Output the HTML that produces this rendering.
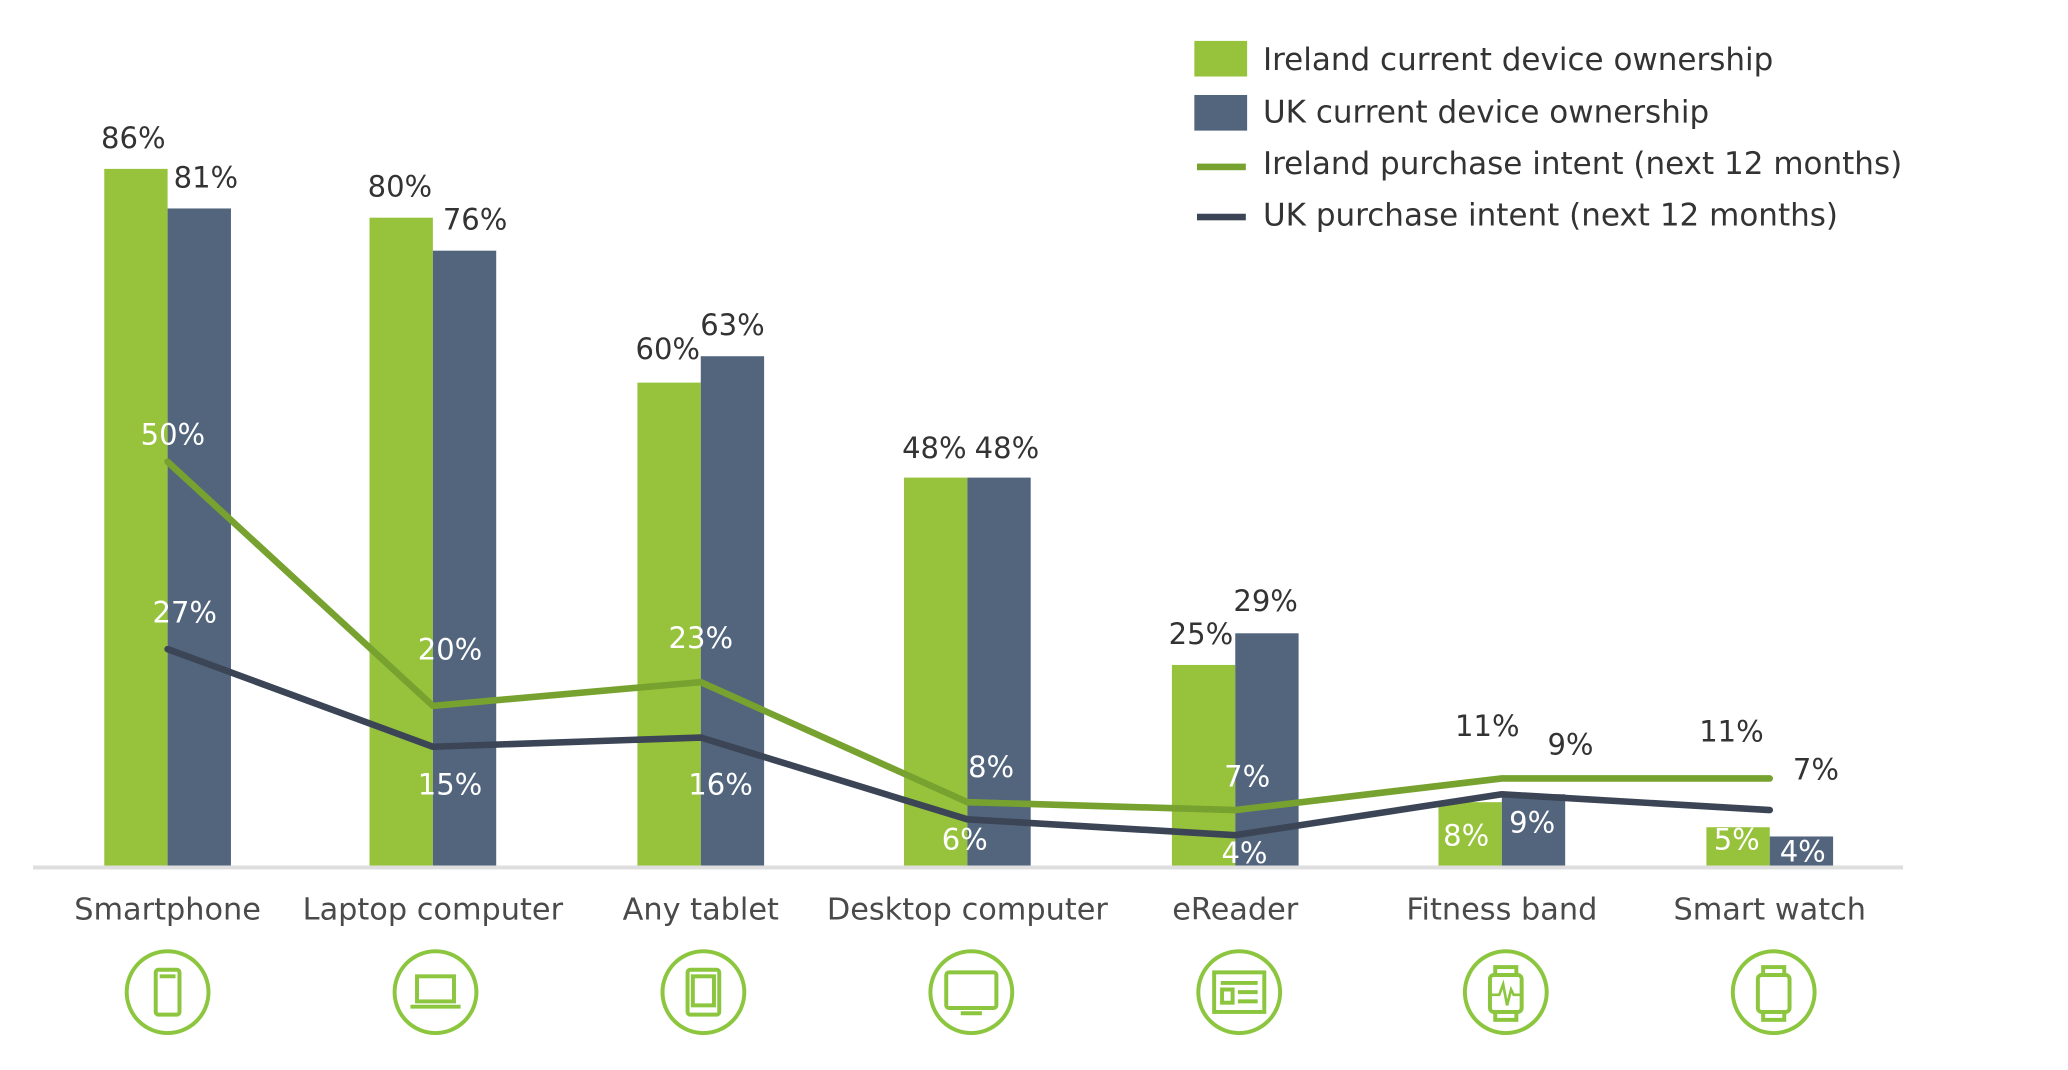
<!DOCTYPE html>
<html><head><meta charset="utf-8"><style>
html,body{margin:0;padding:0;background:#fff;}
svg{display:block;}
text{font-family:"DejaVu Sans","Liberation Sans",sans-serif;}
</style></head><body>
<svg width="2068" height="1070" viewBox="0 0 1567 811" preserveAspectRatio="none" xmlns="http://www.w3.org/2000/svg">
<rect width="1567" height="811" fill="#fff"/>
<g>
<rect x="79" y="128" width="48" height="529" fill="#97c33c"/><rect x="127" y="158" width="48" height="499" fill="#52657d"/>
<rect x="280" y="165" width="48" height="492" fill="#97c33c"/><rect x="328" y="190" width="48" height="467" fill="#52657d"/>
<rect x="483" y="290" width="48" height="367" fill="#97c33c"/><rect x="531" y="270" width="48" height="387" fill="#52657d"/>
<rect x="685" y="362" width="48" height="295" fill="#97c33c"/><rect x="733" y="362" width="48" height="295" fill="#52657d"/>
<rect x="888" y="504" width="48" height="153" fill="#97c33c"/><rect x="936" y="480" width="48" height="177" fill="#52657d"/>
<rect x="1090" y="608" width="48" height="49" fill="#97c33c"/><rect x="1138" y="602" width="48" height="55" fill="#52657d"/>
<rect x="1293" y="627" width="48" height="30" fill="#97c33c"/><rect x="1341" y="634" width="48" height="23" fill="#52657d"/>
</g>
<rect x="25" y="656" width="1417" height="3" fill="#dedede"/>
<polyline points="127,350 328,535 531,517 733,608 936,614 1138,590 1341,590" fill="none" stroke="#77a22f" stroke-width="5" stroke-linejoin="round" stroke-linecap="round"/>
<polyline points="127,492 328,566 531,559 733,621 936,633 1138,602 1341,614" fill="none" stroke="#3b4556" stroke-width="5" stroke-linejoin="round" stroke-linecap="round"/>
<g font-size="22" fill="#333" text-anchor="middle">
<text x="101" y="112">86%</text><text x="156" y="142">81%</text>
<text x="303" y="149">80%</text><text x="360" y="174">76%</text>
<text x="506" y="272">60%</text><text x="555" y="254">63%</text>
<text x="708" y="347">48%</text><text x="763" y="347">48%</text>
<text x="910" y="488">25%</text><text x="959" y="463">29%</text>
<text x="1127" y="558">11%</text><text x="1190" y="572">9%</text>
<text x="1312" y="562">11%</text><text x="1376" y="591">7%</text>
</g>
<g font-size="22" fill="#fff" text-anchor="middle">
<text x="131" y="337">50%</text><text x="140" y="472">27%</text>
<text x="341" y="500">20%</text><text x="341" y="602">15%</text>
<text x="531" y="491">23%</text><text x="546" y="602">16%</text>
<text x="751" y="589">8%</text><text x="731" y="644">6%</text>
<text x="945" y="596">7%</text><text x="943" y="654">4%</text>
<text x="1111" y="641">8%</text><text x="1161" y="631">9%</text>
<text x="1316" y="644">5%</text><text x="1366" y="653">4%</text>
</g>
<g font-size="23" fill="#4a4a4a" text-anchor="middle">
<text x="127" y="697">Smartphone</text><text x="328" y="697">Laptop computer</text>
<text x="531" y="697">Any tablet</text><text x="733" y="697">Desktop computer</text>
<text x="936" y="697">eReader</text><text x="1138" y="697">Fitness band</text>
<text x="1341" y="697">Smart watch</text>
</g>
<g fill="none" stroke="#8cc63f" stroke-width="3">
<circle cx="127" cy="752" r="31"/><circle cx="330" cy="752" r="31"/><circle cx="533" cy="752" r="31"/>
<circle cx="736" cy="752" r="31"/><circle cx="939" cy="752" r="31"/><circle cx="1141" cy="752" r="31"/><circle cx="1344" cy="752" r="31"/>
<rect x="118" y="735" width="18" height="34" rx="2"/><line x1="121" y1="740" x2="133" y2="740"/>
<rect x="316" y="740" width="28" height="19"/><line x1="311" y1="763" x2="349" y2="763"/>
<rect x="521" y="735" width="24" height="34" rx="2"/><rect x="525" y="740" width="16" height="22"/>
<rect x="717" y="737" width="38" height="27" rx="2"/><line x1="728" y1="768" x2="744" y2="768"/>
<rect x="920" y="737" width="38" height="30"/><line x1="925" y1="745" x2="953" y2="745"/><line x1="938" y1="752" x2="953" y2="752"/><line x1="938" y1="759" x2="953" y2="759"/><rect x="926" y="750" width="8" height="10"/>
<rect x="1129" y="739" width="24" height="28" rx="3"/><rect x="1133" y="733" width="16" height="6"/><rect x="1133" y="767" width="16" height="6"/><polyline points="1129,754 1136,754 1139,746 1142,762 1145,750 1147,754 1153,754" stroke-width="2"/>
<rect x="1332" y="739" width="24" height="28" rx="3"/><rect x="1336" y="733" width="16" height="6"/><rect x="1336" y="767" width="16" height="6"/>
</g>
<rect x="905" y="31" width="40" height="27" fill="#97c33c"/>
<rect x="905" y="72" width="40" height="27" fill="#52657d"/>
<rect x="907" y="124" width="37" height="5" fill="#77a22f"/>
<rect x="907" y="162" width="37" height="5" fill="#3b4556"/>
<g font-size="23.5" fill="#333">
<text x="957" y="53">Ireland current device ownership</text>
<text x="957" y="93">UK current device ownership</text>
<text x="957" y="132">Ireland purchase intent (next 12 months)</text>
<text x="957" y="171">UK purchase intent (next 12 months)</text>
</g>
</svg>
</body></html>
